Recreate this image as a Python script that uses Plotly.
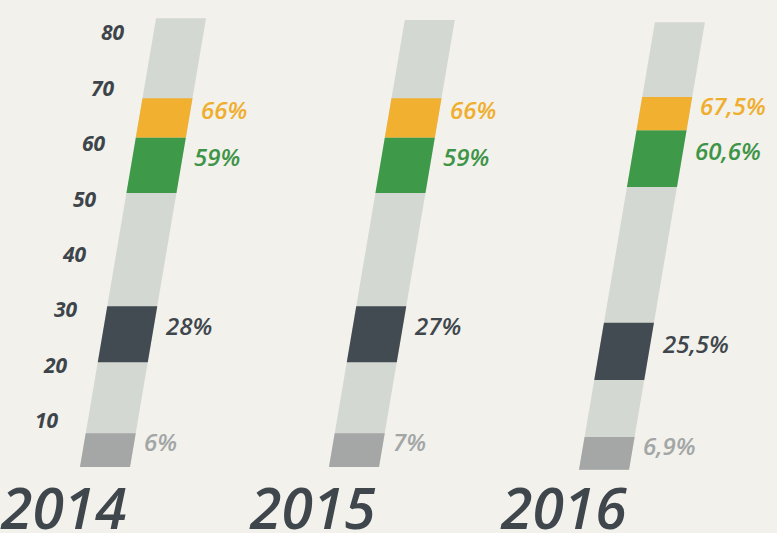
import plotly.graph_objects as go

# years and label texts
years = ["2014", "2015", "2016"]
orange_txt = ["66%", "66%", "67,5%"]
green_txt = ["59%", "59%", "60,6%"]
dark_txt = ["28%", "27%", "25,5%"]
grey_txt = ["6%", "7%", "6,9%"]

# band extents (axis units)
orange_lo = [61.0, 61.0, 62.3]
orange_hi = [68.1, 68.1, 68.3]
green_lo = [51.0, 51.0, 52.1]
green_hi = [61.0, 61.0, 62.3]
dark_lo = [20.5, 20.5, 17.3]
dark_hi = [30.6, 30.6, 27.6]
grey_lo = [1.6, 1.6, 1.1]
grey_hi = [7.7, 7.7, 7.0]
col_lo = [1.6, 1.6, 1.1]
col_hi = [82.5, 82.2, 81.8]

ticks = [10, 20, 30, 40, 50, 60, 70, 80]

# layout constants
base_x = [78.5, 327.5, 578]
slant = 0.94
width = 50
font = "Open Sans"
bg = "#f2f1ec"

fig = go.Figure()


def band(i, lo, hi, color):
    b = base_x[i]
    xs = [b + slant * lo, b + width + slant * lo, b + width + slant * hi, b + slant * hi, b + slant * lo]
    ys = [lo, lo, hi, hi, lo]
    fig.add_trace(go.Scatter(x=xs, y=ys, fill="toself", mode="lines",
                             line=dict(width=0), fillcolor=color,
                             hoverinfo="skip", showlegend=False))


def label(i, lo, hi, text, color):
    b = base_x[i]
    fig.add_annotation(x=b + width + slant * hi + 6, y=(lo + hi) / 2 + 1.5, text=text,
                       xanchor="left", yanchor="middle", showarrow=False,
                       font=dict(family=font, size=24, color=color, style="italic", weight=600))


for i in range(len(years)):
    band(i, col_lo[i], col_hi[i], "#d4d8d3")
    band(i, grey_lo[i], grey_hi[i], "#a4a7a6")
    band(i, dark_lo[i], dark_hi[i], "#434b52")
    band(i, green_lo[i], green_hi[i], "#3e9a48")
    band(i, orange_lo[i], orange_hi[i], "#f1b030")
    label(i, orange_lo[i], orange_hi[i], orange_txt[i], "#f0ae2e")
    label(i, green_lo[i], green_hi[i], green_txt[i], "#3e9447")
    label(i, dark_lo[i], dark_hi[i], dark_txt[i], "#3f474d")
    label(i, grey_lo[i], grey_hi[i], grey_txt[i], "#a3a6a6")
    fig.add_annotation(x=base_x[i] - 15, y=-5.6, text=years[i], xanchor="center", yanchor="middle",
                       showarrow=False,
                       font=dict(family=font, size=57, color="#3f474d", style="italic", weight=600))

for t in ticks:
    fig.add_annotation(x=base_x[0] + slant * t - 27, y=t, text=str(t), xanchor="right", yanchor="middle",
                       showarrow=False,
                       font=dict(family=font, size=21, color="#3d454b", style="italic", weight=700))

fig.update_layout(
    width=777, height=533, autosize=False,
    margin=dict(l=0, r=0, t=0, b=0),
    paper_bgcolor=bg, plot_bgcolor=bg,
    xaxis=dict(range=[0, 777], visible=False, fixedrange=True),
    yaxis=dict(range=[-10.3, 85.8], visible=False, fixedrange=True),
)

fig.write_html("out.html", config={"displayModeBar": False},
               post_script="document.body.style.margin='0';document.body.style.overflow='hidden';")
